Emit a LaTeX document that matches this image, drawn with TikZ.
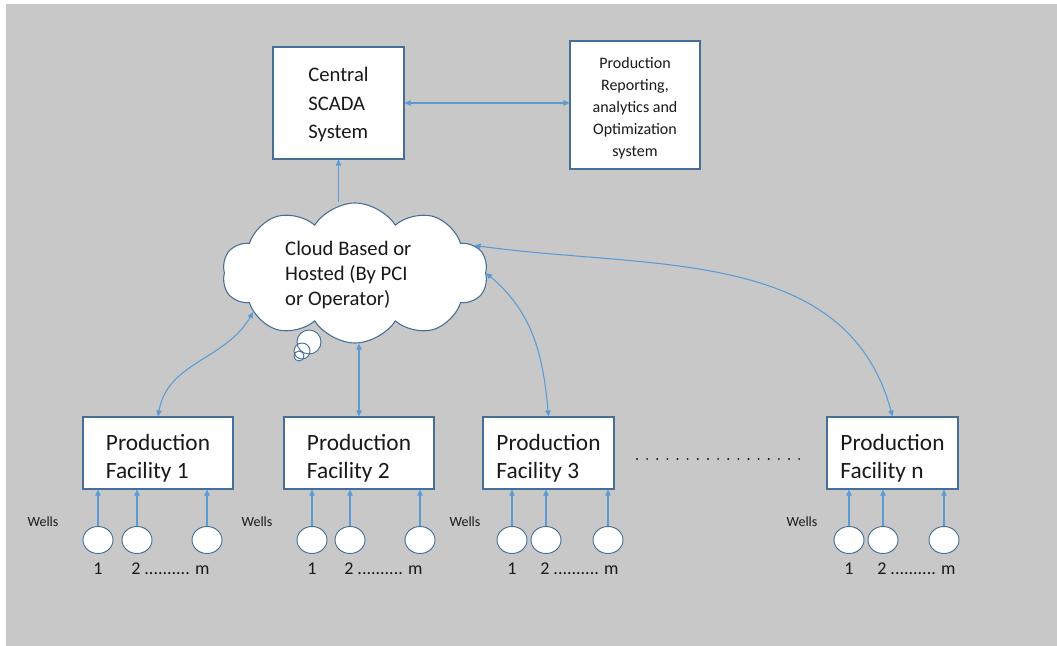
\documentclass[tikz,border=0pt]{standalone}
\usepackage{fontspec}
\setmainfont{Carlito}
\usepackage{tikz}
\usetikzlibrary{arrows.meta}
\usetikzlibrary{shapes.symbols,shapes.geometric}
\usepackage{xcolor}
\definecolor{ColBg}{RGB}{200,200,200}
\definecolor{ColLine}{RGB}{91,155,213}
\definecolor{ColBorder}{RGB}{70,110,150}
\definecolor{ColText}{RGB}{25,25,25}
\tikzstyle{BoxSystem}=[rectangle,draw=ColBorder,fill=white,line width=0.8pt,inner sep=0pt,
text=ColText]
\tikzstyle{BoxFacility}=[BoxSystem,minimum height=54pt,align=left,
font=\fontsize{17.5}{21}\selectfont]
\tikzstyle{NodeWell}=[ellipse,draw=ColBorder,fill=white,line width=0.7pt,minimum width=22.5pt,
minimum height=20.25pt,inner sep=0pt]
\tikzstyle{EdgeLink}=[ColLine,line width=0.8pt,-{Triangle[length=4.5pt,width=4pt]}]
\tikzstyle{EdgeBoth}=[ColLine,line width=0.8pt,
{Triangle[length=4.5pt,width=4pt]}-{Triangle[length=4.5pt,width=4pt]}]
\tikzstyle{TextWells}=[text=ColText,inner sep=0pt,font=\fontsize{10.5}{12}\selectfont]
\tikzstyle{TextNum}=[text=ColText,inner sep=0pt,font=\fontsize{13.5}{15}\selectfont]
\begin{document}
\begin{tikzpicture}[x=0.75pt,y=0.75pt]
        \useasboundingbox(0,0)rectangle(1057,-646);
        \fill[ColBg](6,-4)rectangle(1057,-646);
        % top row
        \node[BoxSystem,minimum width=98.25pt,minimum height=84pt,align=left,
        font=\fontsize{15.5}{21.5}\selectfont](scada)at(338.5,-103){\rule{0pt}{13pt}Central\\SCADA\\System};
        \node[BoxSystem,minimum width=97.5pt,minimum height=96pt,align=center,
        font=\fontsize{12}{16.5}\selectfont](report)at(635,-105)
        {\rule{0pt}{13pt}Production\\Reporting,\\analytics and\\Optimization\\system};
        % cloud and its bubbles
        \node[fill=white,circle,minimum size=18pt,inner sep=0pt](bub1)at(309,-342){};
        \node[fill=white,circle,minimum size=12pt,inner sep=0pt](bub2)at(302,-351){};
        \node[fill=white,circle,minimum size=7.5pt,inner sep=0pt](bub3)at(299,-356){};
        \node[cloud,cloud puffs=10,cloud puff arc=115,aspect=1.9,draw=ColBorder,fill=white,
        line width=0.8pt,minimum width=199pt,minimum height=105pt,inner sep=0pt,align=left,
        text=ColText,font=\fontsize{15.5}{18.75}\selectfont](cloud)at(355,-273)
        {\rule{0pt}{13pt}Cloud Based or\hspace*{10pt}\\Hosted (By PCI\\or Operator)};
        \draw[ColBorder,line width=0.7pt](bub1)circle(9pt);
        \draw[ColBorder,line width=0.7pt](bub2)circle(6pt);
        \draw[ColBorder,line width=0.7pt](bub3)circle(3.75pt);
        % facilities
        \node[BoxFacility,minimum width=112.5pt](fac1)at(158,-453){\rule{0pt}{20pt}Production\\Facility 1};
        \node[BoxFacility,minimum width=112.5pt](fac2)at(359,-453){\rule{0pt}{20pt}Production\\Facility 2};
        \node[BoxFacility,minimum width=98.25pt](fac3)at(548.5,-453){\rule{0pt}{20pt}Production\\Facility 3};
        \node[BoxFacility,minimum width=98.25pt](facn)at(892.5,-453){\rule{0pt}{20pt}Production\\Facility n};
        \coordinate(dotsA)at(637,-459);
        \coordinate(dotsB)at(800,-459);
        \draw[ColText,line width=1.6pt,line cap=round,dash pattern=on 0pt off 7.6pt](dotsA)--(dotsB);
        % wells
        \node[NodeWell](w11)at(98,-540){};
        \node[NodeWell](w12)at(137,-540){};
        \node[NodeWell](w1m)at(207,-540){};
        \node[NodeWell](w21)at(312,-540){};
        \node[NodeWell](w22)at(350,-540){};
        \node[NodeWell](w2m)at(420,-540){};
        \node[NodeWell](w31)at(512,-540){};
        \node[NodeWell](w32)at(546,-540){};
        \node[NodeWell](w3m)at(608,-540){};
        \node[NodeWell](wn1)at(849,-540){};
        \node[NodeWell](wn2)at(883,-540){};
        \node[NodeWell](wnm)at(944,-540){};
        \node[TextWells](lw1)at(43,-522){Wells};
        \node[TextWells](lw2)at(257,-522){Wells};
        \node[TextWells](lw3)at(465,-522){Wells};
        \node[TextWells](lwn)at(802,-522){Wells};
        \node[TextNum](n11)at(98,-569){1};
        \node[TextNum,anchor=west](n12)at(131,-569){2 .......... m};
        \node[TextNum](n21)at(312,-569){1};
        \node[TextNum,anchor=west](n22)at(344,-569){2 .......... m};
        \node[TextNum](n31)at(512,-569){1};
        \node[TextNum,anchor=west](n32)at(540,-569){2 .......... m};
        \node[TextNum](nn1)at(849,-569){1};
        \node[TextNum,anchor=west](nn2)at(877,-569){2 .......... m};
        % links
        \draw[EdgeBoth](scada.east)--(scada.east-|report.west);
        \draw[EdgeLink](scada.south|-cloud.north)--(scada.south);
        \draw[EdgeBoth](fac1.north)to[out=80,in=240](cloud.201);
        \draw[EdgeBoth](fac2.north|-cloud.south)--(fac2.north);
        \draw[EdgeBoth](fac3.north)to[out=95,in=-40](cloud.0);
        \draw[EdgeBoth](facn.north)to[out=105,in=-8](cloud.13);
        \draw[EdgeLink](w11)--(w11|-fac1.south);
        \draw[EdgeLink](w12)--(w12|-fac1.south);
        \draw[EdgeLink](w1m)--(w1m|-fac1.south);
        \draw[EdgeLink](w21)--(w21|-fac2.south);
        \draw[EdgeLink](w22)--(w22|-fac2.south);
        \draw[EdgeLink](w2m)--(w2m|-fac2.south);
        \draw[EdgeLink](w31)--(w31|-fac3.south);
        \draw[EdgeLink](w32)--(w32|-fac3.south);
        \draw[EdgeLink](w3m)--(w3m|-fac3.south);
        \draw[EdgeLink](wn1)--(wn1|-facn.south);
        \draw[EdgeLink](wn2)--(wn2|-facn.south);
        \draw[EdgeLink](wnm)--(wnm|-facn.south);
    \end{tikzpicture}
\end{document}
